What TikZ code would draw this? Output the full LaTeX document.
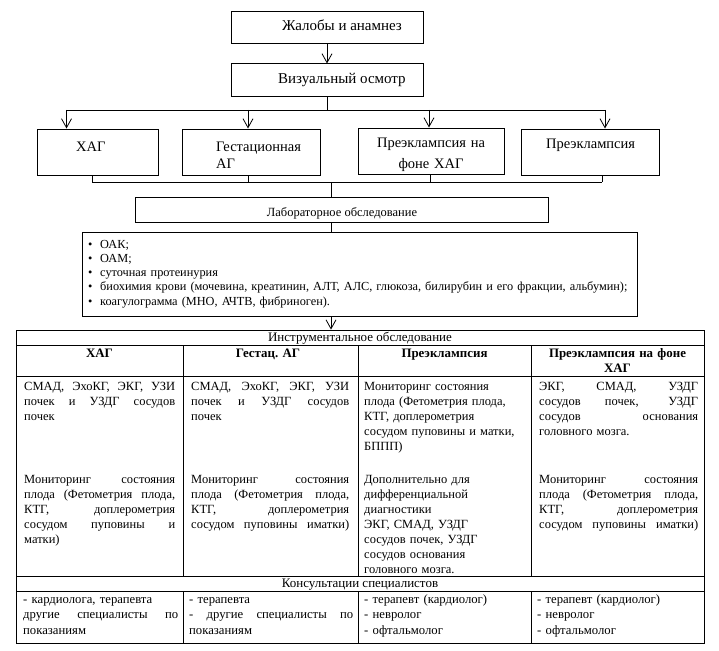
\documentclass[tikz,border=0pt]{standalone}
\usepackage{fontspec}
\setmainfont{Liberation Serif}
\usetikzlibrary{arrows.meta}
\newcommand\jl[1]{{\spaceskip=0.25em plus 1fil\xspaceskip=0.25em plus 1fil\makebox[\linewidth][s]{#1}}}
\begin{document}
\begin{tikzpicture}[x=1pt,y=-1pt,
  box/.style={draw, line width=1pt, inner sep=0pt},
  ln/.style={line width=0.8pt},
  arr/.style={line width=0.8pt, -{Straight Barb[length=9pt,width=10pt]}},
  tl/.style={line width=0.8pt},
  big/.style={inner sep=0pt, font=\fontsize{14.5}{17}\selectfont},
  mid/.style={inner sep=0pt, font=\fontsize{12.5}{15}\selectfont},
  small/.style={inner sep=0pt, font=\fontsize{12.3}{14.3}\selectfont},
  cell/.style={inner sep=0pt, anchor=base west, align=left, font=\fontsize{12.5}{15}\selectfont},
  bcell/.style={inner sep=0pt, anchor=base west, align=left, font=\fontsize{12.7}{15.5}\selectfont},
  hd/.style={inner sep=0pt, anchor=base, align=center, font=\fontsize{12.9}{15}\selectfont\bfseries},
]
\useasboundingbox (0,0) rectangle (719,650);
\fill[white] (0,0) rectangle (719,650);

% top boxes
\node[box, minimum width=192pt, minimum height=32pt] (b1) at (327,28) {};
\node[big, anchor=base west, font=\fontsize{15}{17}\selectfont] (t1) at (282,31) {Жалобы и анамнез};
\node[box, minimum width=192pt, minimum height=33pt] (b2) at (327,80.5) {};
\node[big, anchor=base west, font=\fontsize{15}{17}\selectfont] (t2) at (278,84) {Визуальный осмотр};
\draw[arr] (b1.south) -- (b2.north);

% four boxes
\node[box, minimum width=120.4pt, minimum height=46pt] (bA) at (97.8,152) {};
\node[box, minimum width=138pt, minimum height=46pt] (bB) at (251,152) {};
\node[box, minimum width=146pt, minimum height=46pt] (bC) at (431,151) {};
\node[box, minimum width=138pt, minimum height=46pt] (bD) at (590,152) {};
\node[big, anchor=base west] (tA) at (76,151) {ХАГ};
\node[big, anchor=base west, text width=100pt, align=left] (tB) at (216,151) {Гестационная\\АГ};
\node[big, anchor=base, text width=140pt, align=center, font=\fontsize{14.5}{21}\selectfont] (tC) at (431,147) {Преэклампсия на\\фоне ХАГ};
\node[big, anchor=base west] (tD) at (546,148) {Преэклампсия};

\coordinate (s0) at (b2.south |- 0,110);
\coordinate (sA) at (66.5,110);
\coordinate (sB) at (248,110);
\coordinate (sC) at (429,110);
\coordinate (sD) at (605,110);
\draw[ln] (b2.south) -- (s0);
\draw[ln] (sA) -- (sD);
\draw[arr] (sA) -- (sA |- bA.north);
\draw[arr] (sB) -- (sB |- bB.north);
\draw[arr] (sC) -- (sC |- bC.north);
\draw[arr] (sD) -- (sD |- bD.north);

% lab
\node[box, minimum width=413pt, minimum height=25pt] (lab) at (341.5,209.5) {};
\node[mid, anchor=base] (tlab) at (342,216) {Лабораторное обследование};
\coordinate (jA) at (92,182);
\coordinate (jB) at (248,182);
\coordinate (jC) at (430,182);
\coordinate (jD) at (602,182);
\coordinate (jM) at (331,182);
\draw[ln] (jA |- bA.south) -- (jA);
\draw[ln] (jB |- bB.south) -- (jB);
\draw[ln] (jC |- bC.south) -- (jC);
\draw[ln] (jD |- bD.south) -- (jD);
\draw[ln] (jA) -- (jD);
\draw[ln] (jM) -- (jM |- lab.north);

% bullets
\node[box, minimum width=555pt, minimum height=84pt] (bul) at (359.5,274) {};
\node[small, anchor=base west, text width=545pt, align=left] (tbul) at (88,248) {%
\makebox[12pt][l]{•}ОАК;\\
\makebox[12pt][l]{•}ОАМ;\\
\makebox[12pt][l]{•}суточная протеинурия\\
\makebox[12pt][l]{•}биохимия крови (мочевина, креатинин, АЛТ, АЛС, глюкоза, билирубин и его фракции, альбумин);\\
\makebox[12pt][l]{•}коагулограмма (МНО, АЧТВ, фибриноген).};
\coordinate (lm) at (331,222);
\draw[ln] (lm) -- (lm |- bul.north);

% table
\node[draw, tl, inner sep=0pt, minimum width=688pt, minimum height=313pt] (tbl) at (360,486.5) {};
\coordinate (bm) at (331,316);
\draw[arr] (bm) -- (bm |- tbl.north);
\draw[tl] (16,345) -- (704,345);
\draw[tl] (16,376) -- (704,376);
\draw[tl] (16,576) -- (704,576);
\draw[tl] (16,591) -- (704,591);
\foreach \cx in {183,358,531} {
  \draw[tl] (\cx,345) -- (\cx,576);
  \draw[tl] (\cx,591) -- (\cx,643);
}
\node[mid, anchor=base, font=\fontsize{13}{15}\selectfont] (hinst) at (360,341.5) {Инструментальное обследование};
\node[hd] (h1) at (99.5,357.5) {ХАГ};
\node[hd] (h2) at (268,357.5) {Гестац. АГ};
\node[hd] (h3) at (444.5,357.5) {Преэклампсия};
\node[hd, text width=170pt] (h4) at (617.5,357.5) {Преэклампсия на фоне\\ХАГ};

% column 1
\node[cell, text width=151pt] (c1a) at (24,390) {\jl{СМАД, ЭхоКГ, ЭКГ, УЗИ}\\\jl{почек и УЗДГ сосудов}\\почек};
\node[cell, text width=151pt] (c1b) at (24,483) {\jl{Мониторинг состояния}\\\jl{плода (Фетометрия плода,}\\\jl{КТГ, доплерометрия}\\\jl{сосудом пуповины и}\\матки)};
% column 2
\node[cell, text width=158pt] (c2a) at (191,390) {\jl{СМАД, ЭхоКГ, ЭКГ, УЗИ}\\\jl{почек и УЗДГ сосудов}\\почек};
\node[cell, text width=158pt] (c2b) at (191,483) {\jl{Мониторинг состояния}\\\jl{плода (Фетометрия плода,}\\\jl{КТГ, доплерометрия}\\\jl{сосудом пуповины иматки)}};
% column 3
\node[cell, text width=166pt] (c3) at (364,390) {Мониторинг состояния\\плода (Фетометрия плода,\\КТГ, доплерометрия\\сосудом пуповины и матки,\\БППП)\\[18pt]Дополнительно для\\дифференциальной\\диагностики\\ЭКГ, СМАД, УЗДГ\\сосудов почек, УЗДГ\\сосудов основания\\головного мозга.};
% column 4
\node[cell, text width=159pt] (c4a) at (539,390) {\jl{ЭКГ, СМАД, УЗДГ}\\\jl{сосудов почек, УЗДГ}\\\jl{сосудов основания}\\головного мозга.};
\node[cell, text width=159pt] (c4b) at (539,483) {\jl{Мониторинг состояния}\\\jl{плода (Фетометрия плода,}\\\jl{КТГ, доплерометрия}\\\jl{сосудом пуповины иматки)}};

% consultations
\node[mid, anchor=base, font=\fontsize{13}{15}\selectfont] (hcons) at (360,587.5) {Консультации специалистов};
\node[bcell, text width=155pt] (d1) at (23,603) {- кардиолога, терапевта\\\jl{другие специалисты по}\\показаниям};
\node[bcell, text width=164pt] (d2) at (189,603) {- терапевта\\\jl{- другие специалисты по}\\показаниям};
\node[bcell, text width=165pt] (d3) at (364,603) {- терапевт (кардиолог)\\- невролог\\- офтальмолог};
\node[bcell, text width=160pt] (d4) at (537,603) {- терапевт (кардиолог)\\- невролог\\- офтальмолог};
\end{tikzpicture}
\end{document}
